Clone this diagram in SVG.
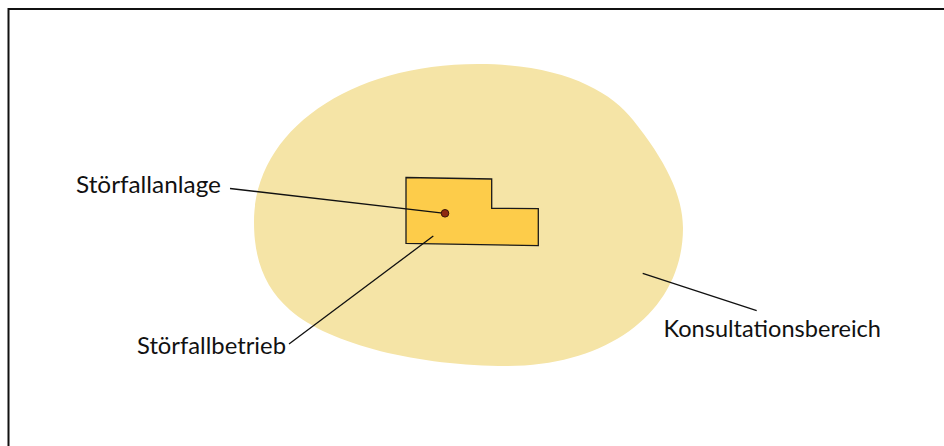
<svg xmlns="http://www.w3.org/2000/svg" width="944" height="446" viewBox="0 0 944 446">
<style>
.lbl{font-family:Lato,"Open Sans",sans-serif;font-size:22.5px;fill:#111}
.ln{stroke:#111;stroke-width:1.3;fill:none}
</style>
<rect width="944" height="446" fill="#fff"/>
<path d="M8.5 446 V9 H944" fill="none" stroke="#111" stroke-width="2"/>
<g id="konsultationsbereich">
<path d="M254 222 C254 130 350 64 478 64 C560 64 610 90 633 120 C665 160 683 195 683 228 C683 310 610 366 507 366 C420 366 330 345 290 310 C265 288 254 260 254 222 Z" fill="#F5E4A6"/>
</g>
<g id="stoerfallbetrieb">
<path d="M406 177.5 L491.7 179 L491.7 208.3 L538.3 208.7 L538.3 245.7 L406 243.3 Z" fill="#FDCC4A" stroke="#1a1a1a" stroke-width="1.3" stroke-linejoin="miter"/>
</g>
<g id="connectors">
<line class="ln" x1="230" y1="188.5" x2="445" y2="213.3"/>
<line class="ln" x1="433.3" y1="236" x2="289" y2="344"/>
<line class="ln" x1="642.7" y1="273.3" x2="756.7" y2="310.7"/>
</g>
<g id="stoerfallanlage">
<circle cx="445" cy="213.3" r="3.8" fill="#8E2A12" stroke="#3a1408" stroke-width="1"/>
</g>
<g id="labels">
<text class="lbl" x="76" y="192.5" textLength="145" lengthAdjust="spacingAndGlyphs">Störfallanlage</text>
<text class="lbl" x="137" y="354" textLength="149" lengthAdjust="spacingAndGlyphs">Störfallbetrieb</text>
<text class="lbl" x="663.5" y="337.3" textLength="217.5" lengthAdjust="spacingAndGlyphs">Konsultationsbereich</text>
</g>
</svg>
